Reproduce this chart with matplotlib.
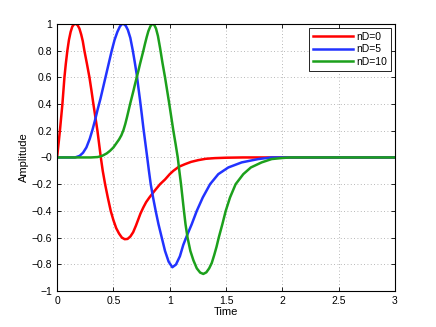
import numpy as np
import matplotlib
matplotlib.use('Agg')
import matplotlib.pyplot as plt
from matplotlib.ticker import FuncFormatter

plt.rcParams['font.family'] = ['Liberation Sans', 'DejaVu Sans']

# values (time, amplitude)
t_nd0 = [0, 0.006, 0.015, 0.027, 0.037, 0.047, 0.056, 0.065, 0.077, 0.091, 0.105,
         0.12, 0.135, 0.15, 0.166, 0.182, 0.198, 0.214, 0.228, 0.242, 0.265,
         0.287, 0.305, 0.322, 0.34, 0.358, 0.373, 0.388, 0.405, 0.426, 0.45,
         0.476, 0.5, 0.525, 0.55, 0.575, 0.6, 0.625, 0.65, 0.675, 0.7,
         0.72, 0.74, 0.765, 0.79, 0.819, 0.865, 0.914, 0.958, 1.0, 1.032,
         1.08, 1.136, 1.19, 1.254, 1.32, 1.40, 1.5, 1.65, 3.0]
a_nd0 = [0, 0.05, 0.12, 0.22, 0.31, 0.4, 0.5, 0.6, 0.7, 0.8, 0.88,
         0.94, 0.98, 0.997, 1.0, 0.99, 0.965, 0.92, 0.87, 0.8, 0.7,
         0.6, 0.5, 0.4, 0.3, 0.2, 0.1, 0.0, -0.1, -0.2, -0.3,
         -0.4, -0.47, -0.53, -0.57, -0.6, -0.612, -0.61, -0.592, -0.56, -0.51,
         -0.465, -0.42, -0.375, -0.335, -0.3, -0.25, -0.2, -0.165, -0.125, -0.1,
         -0.07, -0.05, -0.033, -0.02, -0.01, -0.005, -0.002, 0, 0]

t_nd5 = [0, 0.16, 0.2, 0.23, 0.26, 0.29, 0.315, 0.337, 0.36, 0.385, 0.41,
         0.435, 0.46, 0.485, 0.51, 0.535, 0.556, 0.57, 0.583, 0.595, 0.61,
         0.628, 0.65, 0.672, 0.69, 0.707, 0.722, 0.736, 0.752, 0.766, 0.783,
         0.80, 0.815, 0.831, 0.852, 0.875, 0.9, 0.929, 0.958, 0.99, 1.023,
         1.055, 1.09, 1.12, 1.15, 1.195, 1.24, 1.293, 1.358, 1.431, 1.52,
         1.639, 1.786, 1.905, 3.0]
a_nd5 = [0, 0.0, 0.012, 0.035, 0.075, 0.14, 0.21, 0.28, 0.36, 0.44, 0.53,
         0.62, 0.71, 0.8, 0.88, 0.94, 0.978, 0.994, 1.0, 0.997, 0.985,
         0.955, 0.895, 0.8, 0.71, 0.62, 0.52, 0.43, 0.32, 0.22, 0.11,
         0.0, -0.1, -0.2, -0.3, -0.4, -0.5, -0.6, -0.7, -0.78, -0.822,
         -0.802, -0.74, -0.655, -0.59, -0.5, -0.4, -0.3, -0.2, -0.125, -0.075,
         -0.037, -0.012, 0, 0]

t_nd10 = [0, 0.3, 0.36, 0.4, 0.44, 0.47, 0.5, 0.525, 0.55, 0.57, 0.589,
          0.605, 0.62, 0.634, 0.648, 0.663, 0.678, 0.692, 0.707, 0.722, 0.736,
          0.751, 0.766, 0.78, 0.795, 0.81, 0.828, 0.845, 0.862, 0.878, 0.895,
          0.914, 0.935, 0.958, 0.977, 0.996, 1.014, 1.032, 1.052, 1.071, 1.085,
          1.1, 1.113, 1.126, 1.14, 1.158, 1.183, 1.21, 1.24, 1.27, 1.298,
          1.325, 1.35, 1.373, 1.395, 1.415, 1.435, 1.467, 1.497, 1.535, 1.585,
          1.653, 1.72, 1.816, 1.905, 2.0, 2.07, 3.0]
a_nd10 = [0, 0.0, 0.003, 0.012, 0.03, 0.05, 0.075, 0.105, 0.135, 0.165, 0.205,
          0.25, 0.3, 0.35, 0.4, 0.45, 0.5, 0.55, 0.6, 0.65, 0.7,
          0.75, 0.8, 0.85, 0.9, 0.945, 0.982, 1.0, 0.993, 0.965, 0.91,
          0.82, 0.71, 0.6, 0.5, 0.4, 0.3, 0.2, 0.1, 0.0, -0.1,
          -0.2, -0.3, -0.4, -0.5, -0.6, -0.7, -0.77, -0.83, -0.862, -0.872,
          -0.86, -0.83, -0.79, -0.73, -0.67, -0.6, -0.5, -0.4, -0.3, -0.2,
          -0.125, -0.075, -0.037, -0.012, -0.004, 0, 0]

labels = ['nD=0', 'nD=5', 'nD=10']
colors = ['#ff0000', '#2233ff', '#1ca01c']

fig = plt.figure(figsize=(4.36, 3.27), dpi=100)
ax = fig.add_axes([0.131, 0.110, 0.775, 0.817])

for t, a, lab, c in zip([t_nd0, t_nd5, t_nd10], [a_nd0, a_nd5, a_nd10], labels, colors):
    ax.plot(t, a, color=c, lw=1.8, label=lab, solid_joinstyle='round')

ax.set_xlim(0, 3)
ax.set_ylim(-1, 1)
ax.set_xticks(np.arange(0, 3.01, 0.5))
ax.set_yticks(np.arange(-1, 1.01, 0.2))
fmt = FuncFormatter(lambda v, p: ('%g' % round(v, 2)).replace('-', '\u2212'))
ax.xaxis.set_major_formatter(fmt)
ax.yaxis.set_major_formatter(fmt)
ax.tick_params(direction='in', top=True, right=True, labelsize=7.5, length=3, width=0.6)
ax.grid(True, color='#a0a0a0', linestyle=(0, (1, 3)), linewidth=0.6)
for s in ax.spines.values():
    s.set_linewidth(0.8)

ax.set_xlabel('Time', fontsize=8, labelpad=1)
ax.set_ylabel('Amplitude', fontsize=8, labelpad=2)

leg = ax.legend(loc='upper right', fontsize=7.5, fancybox=False, framealpha=1,
                edgecolor='black', handlelength=3.9, borderaxespad=0.4,
                labelspacing=0.25, handletextpad=0.3, borderpad=0.35)
leg.get_frame().set_linewidth(0.6)

fig.savefig('out.png', dpi=100)
